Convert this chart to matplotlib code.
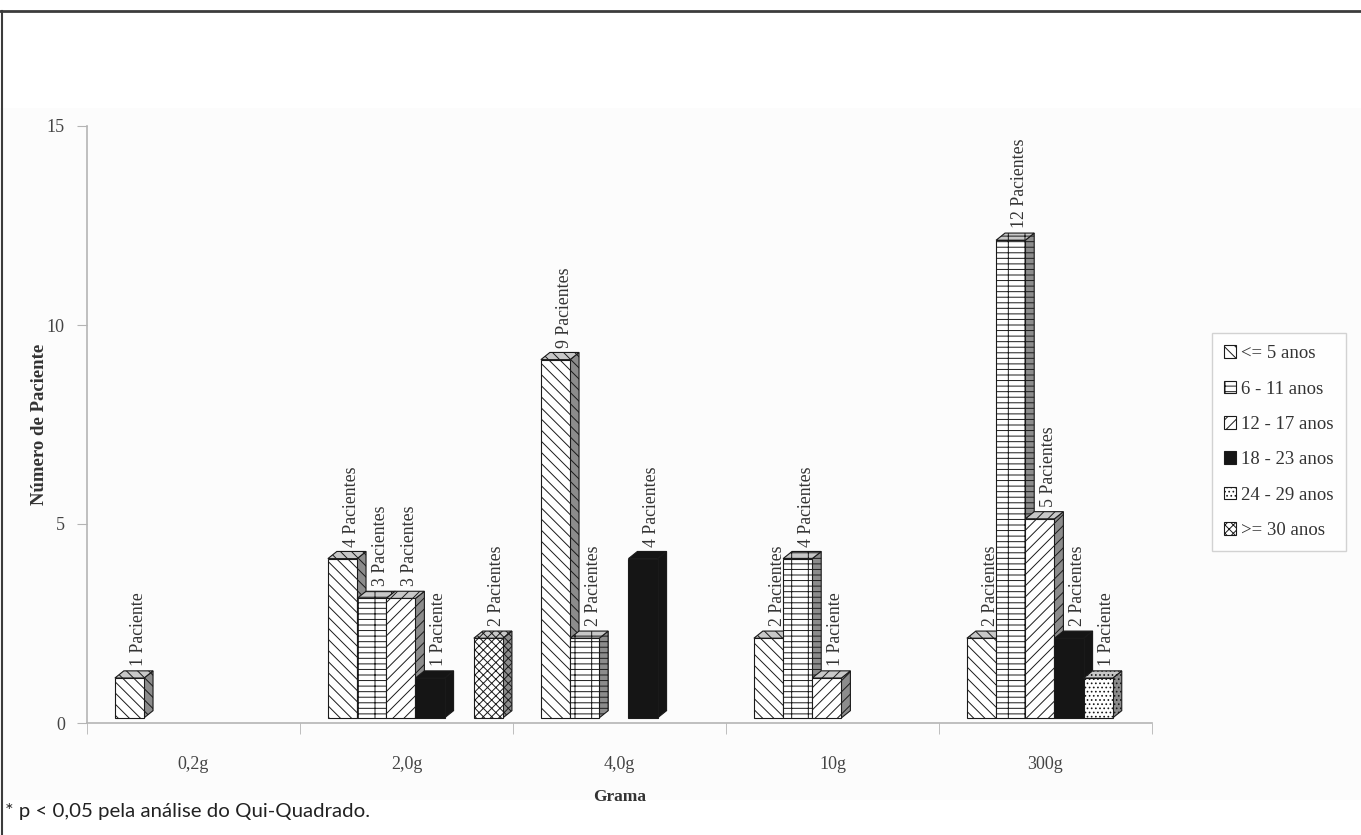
import matplotlib
matplotlib.use('Agg')

import matplotlib.pyplot as plt
import matplotlib.patches as mpatch
from matplotlib.lines import Line2D

# doses on the x axis and the age groups (one series each)
DOSES = ['0,2g', '2,0g', '4,0g', '10g', '300g']
AGES = ['<= 5 anos', '6 - 11 anos', '12 - 17 anos', '18 - 23 anos',
        '24 - 29 anos', '>= 30 anos']

age_0_5 = [1, 4, 9, 2, 2]
age_6_11 = [0, 3, 2, 4, 12]
age_12_17 = [0, 3, 0, 1, 5]
age_18_23 = [0, 1, 4, 0, 2]
age_24_29 = [0, 0, 0, 0, 1]
age_30 = [0, 2, 0, 0, 0]
SERIES = [age_0_5, age_6_11, age_12_17, age_18_23, age_24_29, age_30]

# fill colour / hatch for each series (front, top, side)
STYLES = [
    dict(fc='white', top='#c8c8c8', side='#8c8c8c', hatch='\\\\\\'),
    dict(fc='white', top='#c8c8c8', side='#8c8c8c', hatch='---|'),
    dict(fc='white', top='#c8c8c8', side='#8c8c8c', hatch='///'),
    dict(fc='#151515', top='#151515', side='#151515', hatch=None),
    dict(fc='white', top='#c8c8c8', side='#8c8c8c', hatch='....'),
    dict(fc='white', top='#c8c8c8', side='#8c8c8c', hatch='xxxx'),
]

SERIF = ['Liberation Serif', 'DejaVu Serif']
TXT = '#333333'
AX = '#b4b4b4'

plt.rcParams['hatch.linewidth'] = 0.7
plt.rcParams['hatch.color'] = '#222222'

SLOT = 0.137       # width of one bar, in category units
FIRST = 0.131      # gap between category edge and first bar
DX, DY = 0.042, 0.18   # fake 3d depth offset
BASE = 0.13


def draw_bar(ax, x0, h, st):
    x1 = x0 + SLOT
    y0, y1 = BASE, BASE + h
    kw = dict(ec='#1a1a1a', lw=0.8, hatch=st['hatch'])
    side = mpatch.Polygon([(x1, y0), (x1 + DX, y0 + DY), (x1 + DX, y1 + DY),
                           (x1, y1)], fc=st['side'], **kw)
    top = mpatch.Polygon([(x0, y1), (x0 + DX, y1 + DY), (x1 + DX, y1 + DY),
                          (x1, y1)], fc=st['top'], **kw)
    front = mpatch.Rectangle((x0, y0), SLOT, h, fc=st['fc'], **kw)
    for p in (side, top, front):
        ax.add_patch(p)


fig = plt.figure(figsize=(13.61, 8.35), dpi=100)
# faint grey page behind the chart
fig.patches.append(mpatch.Rectangle((0, 1 - 800 / 835.), 1, 692 / 835.,
                                    transform=fig.transFigure,
                                    fc='#fcfcfc', ec='none', zorder=-5))
ax = fig.add_axes([87 / 1361., 1 - 723 / 835., 1065 / 1361., 597 / 835.])
ax.patch.set_alpha(0)

for i in range(len(DOSES)):
    for j, vals in enumerate(SERIES):
        v = vals[i]
        if v == 0:
            continue
        x0 = i - 0.5 + FIRST + j * SLOT
        draw_bar(ax, x0, v, STYLES[j])
        label = '%d Paciente' % v if v == 1 else '%d Pacientes' % v
        ax.text(x0 + SLOT / 2 + 0.04, v + BASE + 0.3, label, rotation=90,
                ha='center', va='bottom', fontsize=12.8, family=SERIF,
                color=TXT)

ax.set_xlim(-0.5, len(DOSES) - 0.5)
ax.set_ylim(0, 15)
ax.set_yticks([0, 5, 10, 15])
ax.set_xticks(range(len(DOSES)))
ax.set_xticklabels(DOSES)
ax.set_xticks([i - 0.5 for i in range(len(DOSES) + 1)], minor=True)
ax.tick_params(axis='x', which='major', length=0, pad=24)
ax.tick_params(axis='x', which='minor', length=8, color=AX, direction='out')
ax.tick_params(axis='y', length=7, color=AX, pad=9)
for lab in ax.get_xticklabels() + ax.get_yticklabels():
    lab.set_family(SERIF)
    lab.set_fontsize(13)
    lab.set_color('#444444')

for s in ('top', 'right'):
    ax.spines[s].set_visible(False)
for s in ('left', 'bottom'):
    ax.spines[s].set_color(AX)
    ax.spines[s].set_linewidth(1.2)

ax.set_xlabel('Grama', family=SERIF, fontsize=12.5, fontweight='bold',
              color=TXT)
ax.set_ylabel('Número de Paciente', family=SERIF, fontsize=13.5,
              fontweight='bold', color=TXT)
ax.xaxis.set_label_coords(0.5, -74 / 597.)
ax.yaxis.set_label_coords(-47 / 1065., 0.5)
ax.xaxis.label.set_va('center')
ax.yaxis.label.set_va('center')

# legend with little hatched squares
handles = [mpatch.Patch(fc=st['fc'], ec='#1a1a1a', lw=0.8, hatch=st['hatch'])
           for st in STYLES]
leg = fig.legend(handles, AGES, loc='upper left',
                 bbox_to_anchor=(1212 / 1361., 1 - 333 / 835.),
                 prop=dict(family=SERIF, size=13.5), frameon=True,
                 fancybox=False, edgecolor='#c8c8c8', handlelength=0.65,
                 handleheight=0.65, handletextpad=0.25, labelspacing=0.98,
                 borderpad=0.65, borderaxespad=0)
leg.get_frame().set_linewidth(1.0)
for t in leg.get_texts():
    t.set_color(TXT)

# frame lines round the figure (top and left only)
fig.lines.append(Line2D([0, 1], [1 - 11 / 835.] * 2, transform=fig.transFigure,
                        color='#3c3c3c', lw=2))
fig.lines.append(Line2D([2 / 1361.] * 2, [0, 1 - 11 / 835.],
                        transform=fig.transFigure, color='#3c3c3c', lw=1.5))

fig.text(5 / 1361., 1 - 812 / 835., '* p < 0,05 pela análise do Qui-Quadrado.',
         family=['Lato', 'DejaVu Sans'], fontsize=14.7, color='#222222',
         va='center', ha='left')

plt.savefig('out.png', dpi=100)
